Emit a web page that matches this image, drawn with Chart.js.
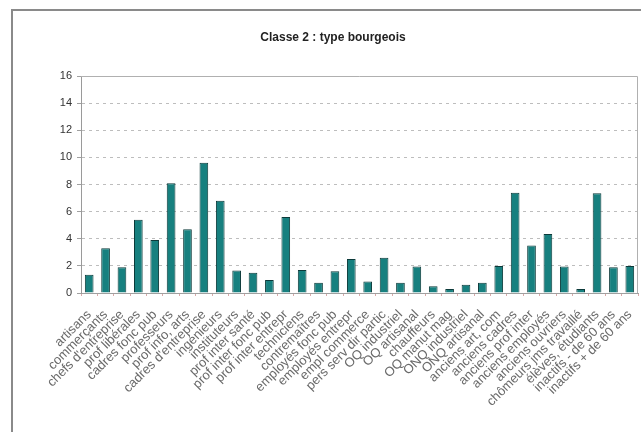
<!DOCTYPE html>
<html>
<head>
<meta charset="utf-8">
<script src="https://cdn.jsdelivr.net/npm/chart.js@4.4.3/dist/chart.umd.min.js"></script>
<style>
  html, body { margin: 0; padding: 0; background: #fff; }
  #wrap { width: 641px; height: 432px; }
</style>
</head>
<body>
<div id="wrap"><canvas id="myChart" width="641" height="432"></canvas></div>
<script>
const categories = [
  'artisans', 'commerçants', "chefs d'entreprise", 'prof libérales', 'cadres fonc pub',
  'professeurs', 'prof info, arts', "cadres d'entreprise", 'ingénieurs', 'instituteurs',
  'prof inter santé', 'prof inter fonc pub', 'prof inter entrepr', 'techniciens', 'contremaîtres',
  'employés fonc pub', 'employés entrepr', 'empl commerce', 'pers serv dir partic', 'OQ industriel',
  'OQ artisanal', 'chauffeurs', 'OQ manut mag', 'ONQ industriel', 'ONQ artisanal',
  'anciens art, com', 'anciens cadres', 'anciens prof inter', 'anciens employés', 'anciens ouvriers',
  'chômeurs jms travaillé', 'élèves, étudiants', 'inactifs - de 60 ans', 'inactifs + de 60 ans'
]
const values = [
  1.35, 3.3, 1.9, 5.4, 3.9,
  8.1, 4.7, 9.6, 6.8, 1.65,
  1.5, 0.95, 5.6, 1.7, 0.75,
  1.6, 2.5, 0.85, 2.6, 0.75,
  1.95, 0.5, 0.3, 0.6, 0.75,
  2.0, 7.4, 3.5, 4.35, 1.95,
  0.3, 7.35, 1.9, 2.0
]
const yTicks = [0, 2, 4, 6, 8, 10, 12, 14, 16]

// outer frame + plot border
const framePlugin = {
  id: 'frame',
  beforeDraw(chart) {
    const ctx = chart.ctx
    ctx.save()
    ctx.strokeStyle = '#8a8a8a'
    ctx.lineWidth = 2
    ctx.strokeRect(12, 10, 700, 500)
    ctx.restore()
  },
  afterDatasetsDraw(chart) {
    const {ctx, chartArea: a} = chart
    ctx.save()
    ctx.strokeStyle = '#b0b0b0'
    ctx.lineWidth = 1
    ctx.beginPath()
    ctx.moveTo(a.left, a.top + 0.5)
    ctx.lineTo(a.right - 0.5, a.top + 0.5)
    ctx.lineTo(a.right - 0.5, a.bottom)
    ctx.stroke()
    ctx.restore()
  }
}

const ctx = document.getElementById('myChart')
new Chart(ctx, {
  type: 'bar',
  data: {
    labels: categories,
    datasets: [{
      data: values,
      backgroundColor: '#17807f',
      borderColor: '#0c3a3a',
      borderWidth: 1,
      barPercentage: 0.53,
      categoryPercentage: 1
    }]
  },
  options: {
    responsive: false,
    animation: false,
    layout: { padding: { left: 28, right: 3, top: 0, bottom: 0 } },
    plugins: {
      legend: { display: false },
      tooltip: { enabled: false },
      title: {
        display: true,
        text: 'Classe 2 : type bourgeois',
        color: '#222',
        font: { family: 'Arial, Liberation Sans', size: 12, weight: 'bold' },
        padding: { top: 30, bottom: 31.6 }
      }
    },
    scales: {
      x: {
        afterFit: (s) => { s.height = 139; s.paddingLeft = 0; s.paddingRight = 0 },
        grid: {
          display: true,
          offset: true,
          drawOnChartArea: false,
          tickLength: 3,
          color: '#d9a9a9'
        },
        border: { display: true, color: '#a0a0a0' },
        ticks: {
          autoSkip: false,
          maxRotation: 45,
          minRotation: 45,
          padding: 11,
          color: '#6a6a6a',
          font: { family: 'Arial, Liberation Sans', size: 13 }
        }
      },
      y: {
        min: 0,
        max: 16,
        afterFit: (s) => { s.width = 53 },
        afterBuildTicks: (s) => { s.ticks = yTicks.map(v => ({value: v})) },
        grid: {
          color: (c) => c.tick && c.tick.value === 16 ? 'rgba(0,0,0,0)' : '#bdbdbd',
          tickBorderDash: [],
          tickColor: '#a0a0a0',
          tickLength: 4
        },
        border: { display: true, color: '#9a9a9a', dash: [3, 4] },
        ticks: {
          padding: 5,
          color: '#333',
          font: { family: 'Arial, Liberation Sans', size: 11 }
        }
      }
    }
  },
  plugins: [framePlugin]
})
</script>
</body>
</html>
